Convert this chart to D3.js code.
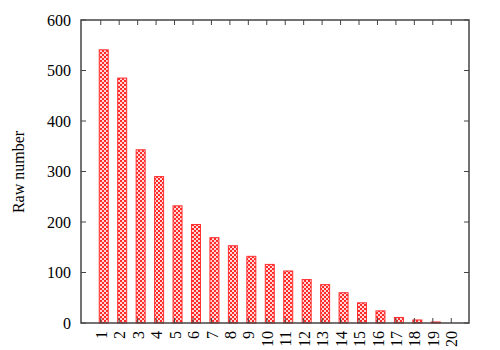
<!DOCTYPE html>
<html><head><meta charset="utf-8">
<script src="https://cdn.jsdelivr.net/npm/d3@7"></script>
<style>body{margin:0;background:#fff}svg{display:block}text{font-family:"Liberation Serif","Times New Roman",serif;fill:#000}</style>
</head><body><svg id="c" width="500" height="350"></svg>
<script>
const categories = [1,2,3,4,5,6,7,8,9,10,11,12,13,14,15,16,17,18,19,20];
const values = [542,486,344,291,233,196,170,154,133,117,104,87,77,61,41,25,12,7,3,0];
const yTicks = [0,100,200,300,400,500,600];
const yLabel = "Raw number";

const svg = d3.select("#c");
const L=81, R=469, T=20, B=323;
const x = d3.scaleLinear().domain([0,21]).range([82.3,469.7]);
const y = d3.scaleLinear().domain([0,600]).range([B,T]);

const defs = svg.append("defs");
const pat = defs.append("pattern").attr("id","chk").attr("patternUnits","userSpaceOnUse")
  .attr("width",4).attr("height",4);
pat.append("rect").attr("width",4).attr("height",4).attr("fill","#ffd8d8");
pat.append("rect").attr("width",2).attr("height",2).attr("fill","#ff2a2a");
pat.append("rect").attr("x",2).attr("y",2).attr("width",2).attr("height",2).attr("fill","#ff2a2a");

const barW = 10, off = -2;
svg.append("g").selectAll("rect").data(values).join("rect")
  .attr("x",(d,i)=>x(categories[i])+off+0.5)
  .attr("y",d=>y(d)+0.5)
  .attr("width",barW-1)
  .attr("height",d=>Math.max(0,y(0)-y(d)-0.5))
  .attr("fill","url(#chk)")
  .attr("stroke","#ff3030").attr("stroke-width",1)
  .attr("display",d=>d>0?null:"none");

const ax = "#444";
// ticks
const g = svg.append("g").attr("stroke",ax).attr("stroke-width",1);
yTicks.forEach(t=>{
  g.append("line").attr("x1",L).attr("x2",L+5).attr("y1",y(t)).attr("y2",y(t));
  g.append("line").attr("x1",R-5).attr("x2",R).attr("y1",y(t)).attr("y2",y(t));
});
categories.forEach(c=>{
  g.append("line").attr("x1",x(c)).attr("x2",x(c)).attr("y1",B).attr("y2",B-5);
  g.append("line").attr("x1",x(c)).attr("x2",x(c)).attr("y1",T).attr("y2",T+5);
});
svg.append("rect").attr("x",L).attr("y",T).attr("width",R-L).attr("height",B-T)
  .attr("fill","none").attr("stroke",ax).attr("stroke-width",1.5);

// y labels
svg.append("g").selectAll("text").data(yTicks).join("text")
  .attr("x",71).attr("y",d=>y(d)).attr("dy","0.35em").attr("text-anchor","end")
  .attr("font-size",16).text(d=>d);
// x labels rotated
svg.append("g").selectAll("text").data(categories).join("text")
  .attr("transform",d=>`translate(${x(d)+0.5},331) rotate(-90)`)
  .attr("text-anchor","end").attr("dy","0.35em").attr("font-size",16).text(d=>d);
svg.append("text").attr("transform","translate(18,172) rotate(-90)")
  .attr("text-anchor","middle").attr("dy","0.35em").attr("font-size",16).text(yLabel);
</script></body></html>
